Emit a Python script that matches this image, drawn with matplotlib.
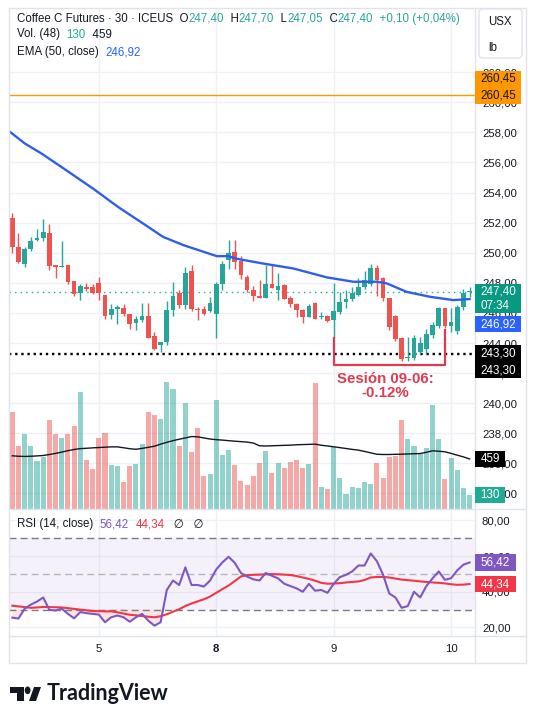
import numpy as np
import matplotlib
matplotlib.use('Agg')
import matplotlib.pyplot as plt
from matplotlib.patches import Rectangle, Polygon, Circle, FancyBboxPatch
from matplotlib.lines import Line2D
from matplotlib.colors import to_rgb

plt.rcParams['font.family'] = ['Liberation Sans', 'DejaVu Sans']

# ---- data: Coffee C, 30 min bars ----
opens = [252.33, 250.35, 249.25, 250.24, 250.85, 251.00, 251.34, 249.18, 249.07, 249.18,
         248.10, 247.30, 247.75, 247.75, 247.97, 247.20, 245.83, 246.27, 246.34, 245.94,
         245.30, 245.50, 245.80, 244.45, 243.90, 244.05, 246.20, 247.33, 246.54, 248.80,
         246.27, 246.27, 246.10, 245.94, 247.93, 249.50, 250.06, 249.47, 248.37, 247.55,
         247.10, 247.00, 247.93, 247.55, 247.86, 246.98, 246.60, 246.16, 245.74, 246.65,
         245.70, 245.80, 245.53, 246.05, 246.74, 246.90, 247.20, 247.75, 247.90, 249.00,
         248.30, 246.96, 245.80, 244.30, 243.00, 243.00, 243.40, 243.60, 244.50, 245.10,
         246.30, 245.10, 244.80, 246.40, 247.40]
highs = [252.66, 251.30, 250.35, 251.07, 251.60, 252.26, 251.90, 249.20, 250.80, 249.20,
         248.10, 247.93, 247.99, 247.93, 248.40, 247.20, 246.56, 246.50, 246.60, 245.94,
         245.80, 246.65, 246.65, 244.73, 244.08, 246.76, 248.04, 247.50, 249.03, 249.18,
         246.38, 246.45, 247.06, 248.04, 249.47, 250.83, 250.83, 249.80, 248.50, 247.80,
         248.20, 249.18, 249.18, 248.65, 247.93, 247.15, 246.65, 246.27, 246.56, 246.70,
         246.05, 245.85, 247.97, 247.40, 247.50, 247.70, 248.30, 248.80, 249.25, 249.15,
         248.40, 247.00, 245.86, 244.40, 244.40, 244.50, 244.40, 244.90, 245.40, 246.40,
         246.35, 246.30, 246.50, 247.60, 247.70]
lows = [249.95, 249.30, 249.03, 250.13, 250.79, 250.79, 248.87, 248.30, 249.03, 247.93,
        247.15, 246.85, 247.48, 247.26, 246.85, 245.60, 245.57, 245.28, 245.80, 244.90,
        244.84, 245.40, 244.30, 243.52, 243.37, 243.85, 245.80, 246.30, 246.28, 246.10,
        245.50, 245.83, 246.05, 244.30, 247.50, 248.90, 248.90, 248.26, 247.40, 246.80,
        247.00, 247.00, 247.64, 246.85, 246.90, 246.38, 245.76, 245.30, 245.74, 245.60,
        245.60, 245.40, 244.30, 245.93, 246.35, 246.80, 247.10, 247.60, 247.80, 247.10,
        246.80, 244.87, 244.10, 242.80, 242.80, 242.90, 243.30, 243.30, 244.30, 245.00,
        245.00, 244.70, 244.60, 246.20, 247.05]
closes = [250.35, 249.36, 250.24, 250.79, 251.00, 251.40, 249.14, 249.03, 249.14, 248.08,
          247.26, 247.77, 247.60, 247.30, 247.30, 245.80, 246.27, 246.38, 245.94, 245.24,
          245.60, 245.80, 244.36, 243.60, 244.05, 246.20, 247.15, 246.50, 248.65, 246.23,
          246.16, 245.94, 246.65, 247.93, 249.25, 250.00, 249.36, 248.52, 247.50, 247.10,
          247.00, 247.93, 247.64, 247.77, 246.90, 246.58, 246.16, 245.74, 246.45, 245.60,
          245.80, 245.46, 246.10, 246.74, 246.90, 247.30, 247.75, 248.20, 249.00, 248.20,
          246.96, 245.04, 244.25, 242.95, 243.10, 244.30, 244.00, 244.60, 245.20, 246.30,
          245.10, 245.40, 246.40, 247.30, 247.40]
volume = [886, 574, 691, 574, 444, 481, 815, 685, 654, 691,
          759, 1071, 451, 370, 654, 701, 404, 395, 250, 395,
          414, 593, 886, 861, 830, 1164, 1099, 574, 969, 521,
          747, 306, 321, 1000, 500, 537, 404, 259, 222, 306,
          426, 528, 330, 426, 379, 435, 448, 379, 410, 1160,
          204, 182, 568, 281, 137, 198, 192, 250, 230, 425,
          284, 481, 490, 815, 639, 574, 506, 556, 954, 639,
          275, 469, 358, 192, 130]
vol_ma = [488, 484, 482, 484, 487, 491, 500, 510, 522, 535,
          546, 554, 557, 561, 564, 567, 570, 570, 562, 553,
          548, 556, 566, 576, 595, 612, 627, 640, 652, 665,
          662, 652, 642, 636, 632, 627, 622, 618, 614, 605,
          580, 578, 580, 582, 584, 586, 589, 591, 593, 595,
          585, 578, 571, 563, 555, 547, 540, 528, 515, 502,
          500, 500, 502, 503, 505, 507, 509, 520, 534, 530,
          525, 510, 494, 478, 459]
rsi = [25.5, 25.0, 30.5, 32.8, 34.5, 36.8, 29.8, 29.5, 30.5, 27.6,
       25.1, 28.6, 28.0, 27.6, 27.2, 22.9, 25.7, 26.7, 25.7, 23.2,
       25.7, 27.6, 23.8, 21.0, 22.9, 41.0, 46.3, 43.8, 53.7, 43.8,
       43.8, 42.9, 46.3, 52.5, 56.5, 59.6, 56.2, 50.5, 48.5, 47.0,
       46.3, 50.5, 49.0, 47.5, 44.5, 43.2, 41.9, 40.0, 44.4, 40.6,
       41.0, 39.4, 44.4, 48.2, 49.5, 51.4, 54.7, 54.7, 61.5, 57.1,
       49.5, 39.0, 36.8, 31.0, 32.0, 40.0, 36.8, 43.2, 47.5, 51.4,
       46.7, 47.6, 52.0, 55.2, 56.42]
rsi_ma = [32.2, 31.8, 31.4, 31.0, 31.2, 31.5, 31.4, 31.3, 31.2, 30.8,
          30.4, 30.0, 29.6, 29.2, 29.1, 29.0, 29.0, 28.5, 27.8, 27.1,
          26.8, 26.4, 26.0, 25.7, 26.3, 27.4, 28.8, 30.2, 32.0, 33.4,
          34.6, 35.8, 37.3, 39.4, 41.5, 43.5, 46.0, 48.6, 49.3, 49.5,
          49.6, 49.8, 49.9, 49.8, 49.6, 49.4, 48.8, 48.0, 47.2, 46.2,
          45.0, 44.5, 44.6, 44.8, 45.2, 45.5, 45.8, 46.6, 48.0, 48.3,
          48.3, 48.0, 47.4, 46.8, 46.5, 46.2, 45.8, 45.5, 45.2, 45.0,
          44.7, 44.2, 43.9, 44.0, 44.34]
# EMA(50): bar position -> value
ema_bar = [-0.6, 2.05, 4.76, 8.8, 13.1, 17.15, 21.2, 24.4, 27.7, 33.1, 34.95,
           36.3, 40.6, 45.5, 50.9, 55.2, 59.0, 60.6, 63.8, 67.6, 71.4, 74]
ema_val = [258.1, 257.25, 256.58, 255.46, 254.25, 253.03, 251.93, 251.05, 250.5,
           249.77, 249.77, 249.6, 249.28, 248.95, 248.36, 248.07, 248.07, 247.96,
           247.4, 247.07, 246.85, 246.92]

day_labels = ['5', '8', '9', '10']
day_first_bar = [14, 33, 52, 71]

last_price = 247.40
ema_last = 246.92
alert_level = 260.45
support_level = 243.30
session_bars = (52, 70)
session_tops = (244.30, 244.86)
session_floor = 242.54

GREEN = '#26a69a'
RED = '#ef5350'
TEXT = '#131722'
FRAME = '#e0e3eb'
GRID = '#eef0f5'

# ---- layout in pixels ----
W, H = 536, 707
fig = plt.figure(figsize=(W / 100, H / 100), dpi=100)


def fx(px):
    return px / W


def fy(py):
    return 1 - py / H


L, R, RR = 8.6, 475, 526
T, MB, RB, XB = 8, 509, 636, 663

main_rect = [fx(L), fy(MB), fx(R) - fx(L), fy(T) - fy(MB)]
ax = fig.add_axes(main_rect)
axv = fig.add_axes(main_rect)
axr = fig.add_axes([fx(L), fy(RB), fx(R) - fx(L), fy(MB) - fy(RB)])

x = np.arange(len(closes))
o, hi, lo, c = (np.array(a) for a in (opens, highs, lows, closes))
up = c >= o
cols = np.where(up, GREEN, RED)

for a in (ax, axv, axr):
    a.set_xlim(-0.6, 74.87)
    for s in a.spines.values():
        s.set_visible(False)

# price pane
ax.set_ylim(232.97, 266.26)
ax.yaxis.tick_right()
yt = np.arange(234, 263, 2)
ax.set_yticks(yt)
ax.set_yticklabels([f'{v:.2f}'.replace('.', ',') for v in yt])
ax.set_xticks(day_first_bar)
ax.tick_params(axis='y', length=0, pad=5, labelsize=8.2, labelcolor=TEXT)
ax.tick_params(axis='x', length=0, labelbottom=False)
ax.grid(True, color=GRID, lw=1)
ax.set_axisbelow(True)

ax.vlines(x, lo, hi, colors=cols, lw=1.0, zorder=3)
ax.bar(x, np.maximum(np.abs(c - o), 0.07), bottom=np.minimum(o, c), width=0.76,
       color=cols, lw=0, zorder=4)
ax.plot(ema_bar, ema_val, color='#2f5fe8', lw=1.7, zorder=5)
ax.axhline(alert_level, color='#ff9800', lw=1.0, zorder=2)
ax.axhline(last_price, color=GREEN, lw=1.0, ls=(0, (1, 3)), zorder=2)
ax.axhline(support_level, color='black', lw=1.7, ls=(0, (1, 1.6)), zorder=2)

# volume overlay
axv.set_axis_off()
axv.set_ylim(0, 501 / 0.109)
vcols = [(*to_rgb(GREEN if u else RED), 0.5) for u in up]
axv.bar(x, volume, width=0.82, color=vcols, lw=0)
axv.plot(x, vol_ma, color=TEXT, lw=1.0)

# RSI pane
axr.set_ylim(15.2, 86.4)
axr.yaxis.tick_right()
axr.set_yticks([20, 40, 60, 80])
axr.set_yticklabels(['20,00', '40,00', '60,00', '80,00'])
axr.set_xticks(day_first_bar)
axr.set_xticklabels(day_labels)
axr.get_xticklabels()[1].set_fontweight('bold')
axr.tick_params(axis='y', length=0, pad=5, labelsize=8.2, labelcolor=TEXT)
axr.tick_params(axis='x', length=0, pad=5.4, labelsize=8.2, labelcolor=TEXT)
axr.grid(True, color=GRID, lw=1)
axr.set_axisbelow(True)
axr.axhspan(30, 70, color='#7e57c2', alpha=0.08, lw=0)
for lvl, al in ((70, 1.0), (50, 0.5), (30, 1.0)):
    axr.axhline(lvl, color='#787b86', lw=1, ls=(0, (5, 3)), alpha=al)
r = np.array(rsi)
axr.fill_between(x, r, 30, where=r < 30, interpolate=True, color=RED, alpha=0.15, lw=0)
axr.plot(x, rsi_ma, color='#f23645', lw=1.5)
axr.plot(x, rsi, color='#7e57c2', lw=1.5)

# frame lines
def fline(xs, ys):
    fig.add_artist(Line2D([fx(v) for v in xs], [fy(v) for v in ys], color=FRAME,
                          lw=1, transform=fig.transFigure, zorder=1))

fline([L, RR, RR, L, L], [T, T, XB, XB, T])
fline([R, R], [T, XB])
fline([L, RR], [MB, MB])
fline([L, RR], [RB, RB])

# session bracket and note
fig.add_artist(Line2D([session_bars[0], session_bars[0], session_bars[1], session_bars[1]],
                      [session_tops[0], session_floor, session_floor, session_tops[1]],
                      transform=ax.transData, color='#e03a4e', lw=1.6, zorder=7))
fig.text(60.3, 241.14, 'Sesión 09-06:\n-0.12%', transform=ax.transData, ha='center',
         va='center', color='#e03a4e', fontsize=10.8, fontweight='bold', linespacing=1.05,
         zorder=8)


# price tags on the right scale
def tag(axis, val, text, face, dy=0, w=46, h=16.6, tcolor='white', sub=None):
    yc = H - axis.transData.transform((0, val))[1] + dy
    bh = h if sub is None else h + 13
    top = yc - h / 2
    fig.add_artist(Rectangle((fx(R), fy(top + bh)), w / W, bh / H, transform=fig.transFigure,
                             facecolor=face, edgecolor='none', zorder=9))
    fig.text(fx(R + 5.5), fy(yc), text, color=tcolor, fontsize=8.4, va='center',
             ha='left', zorder=10)
    if sub:
        fig.text(fx(R + 5.5), fy(yc + 14), sub, color=tcolor, fontsize=8.4, va='center',
                 ha='left', zorder=10)


lbl = lambda v: f'{v:.2f}'.replace('.', ',')
tag(ax, alert_level, lbl(alert_level), '#ff9800', dy=-16.6, tcolor=TEXT)
tag(ax, alert_level, lbl(alert_level), '#ff9800', tcolor=TEXT)
tag(ax, last_price, lbl(last_price), '#089981', sub='07:34')
tag(ax, ema_last, lbl(ema_last), '#2962ff', dy=25)
tag(ax, support_level, lbl(support_level), 'black')
tag(ax, support_level, lbl(support_level), 'black', dy=16.6)
tag(axv, vol_ma[-1], str(vol_ma[-1]), 'black', w=30)
tag(axv, volume[-1], str(volume[-1]), '#22ab94', w=30)
tag(axr, rsi[-1], lbl(rsi[-1]), '#7e57c2', w=41)
tag(axr, rsi_ma[-1], lbl(rsi_ma[-1]), '#f23645', w=41)

# legend lines (rich text)
renderer = fig.canvas.get_renderer()


def rich(xp, yp, parts, size=8.3):
    for s, col in parts:
        t = fig.text(fx(xp), fy(yp), s, color=col, fontsize=size, va='center', ha='left')
        xp += t.get_window_extent(renderer).width


GV = '#26a69a'
rich(17, 18.8, [('Coffee C Futures · 30 · ICEUS  O', TEXT), ('247,40', GV), ('  H', TEXT),
                ('247,70', GV), ('  L', TEXT), ('247,05', GV), ('  C', TEXT),
                ('247,40', GV), ('  +0,10 (+0,04%)', GV)])
rich(17, 34.5, [('Vol. (48)  ', TEXT), (str(volume[-1]), GV), ('  ' + str(vol_ma[-1]), TEXT)])
rich(17, 52.5, [('EMA (50, close)  ', TEXT), (lbl(ema_last), '#2962ff')])
rich(17, 524.5, [('RSI (14, close)  ', TEXT), (lbl(rsi[-1]), '#7e57c2'), ('  ', TEXT),
                 (lbl(rsi_ma[-1]), '#f23645'), ('   ∅   ∅', TEXT)])

# currency / unit box
fig.add_artist(FancyBboxPatch((fx(479), fy(58)), 43 / W, 49 / H, transform=fig.transFigure,
                              boxstyle='round,pad=0,rounding_size=0.006', facecolor='white',
                              edgecolor=FRAME, lw=1, zorder=9))
fig.text(fx(488), fy(22), 'USX', fontsize=8.3, color=TEXT, va='center', ha='left', zorder=10)
fig.text(fx(488), fy(48), 'lb', fontsize=8.3, color=TEXT, va='center', ha='left', zorder=10)

# TradingView logo
logo = dict(transform=fig.transFigure, facecolor=TEXT, edgecolor='none')
fig.add_artist(Rectangle((fx(10.3), fy(693)), 13.7 / W, 6 / H, **logo))
fig.add_artist(Rectangle((fx(17), fy(701)), 7 / W, 14 / H, **logo))
fig.add_artist(Polygon([(fx(29), fy(701)), (fx(36), fy(701)), (fx(41), fy(687)), (fx(34), fy(687))], **logo))
fig.add_artist(Circle((fx(27.6), fy(690.3)), 2.9 / W, **logo))
fig.text(fx(47), fy(693), 'TradingView', family=['Lato', 'DejaVu Sans'], fontweight='bold',
         fontsize=15.5, color=TEXT, va='center', ha='left')

fig.savefig('out.png', dpi=100)
